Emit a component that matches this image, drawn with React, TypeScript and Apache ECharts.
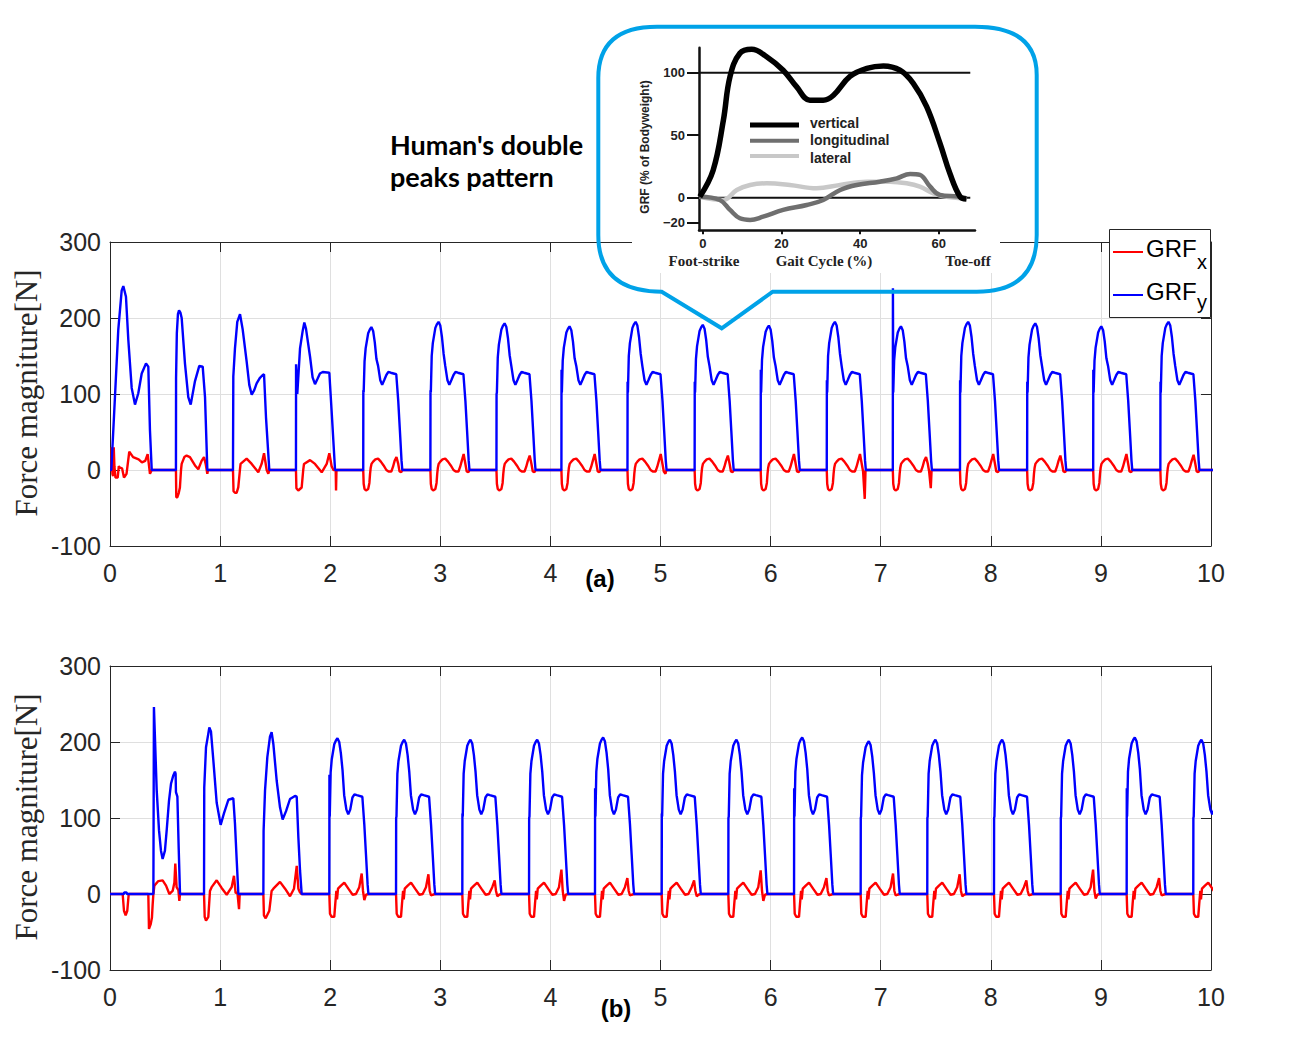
import React, { useEffect, useRef } from 'react';
import * as echarts from 'echarts';

type Pt = [number, number];

// ---------- axes ----------
const T_MIN = 0;
const T_MAX = 10;
const T_STEP = 1;
const F_MIN = -100;
const F_MAX = 300;
const F_STEP = 100;

// ---------- plot (a): first, irregular strides (time s, force N) ----------
const BLUE_A_FIRST: Pt[] = [
  [0.012, 0], [0.045, 96], [0.075, 184], [0.106, 236], [0.121, 242], [0.145, 228], [0.166, 172], [0.197, 108], [0.227, 86], [0.257, 101], [0.288, 127], [0.327, 140], [0.348, 136], [0.363, 52], [0.379, 0],
  [0.599, 0], [0.6, 120], [0.607, 180], [0.617, 205], [0.627, 210], [0.64, 207], [0.651, 200], [0.681, 140], [0.711, 96], [0.733, 86], [0.772, 117], [0.811, 137], [0.842, 136], [0.863, 96], [0.884, 0],
  [1.117, 0], [1.12, 123], [1.135, 160], [1.156, 195], [1.181, 205], [1.205, 185], [1.241, 143], [1.265, 112], [1.287, 99], [1.31, 105], [1.332, 114], [1.36, 121], [1.387, 125], [1.399, 126], [1.417, 69], [1.447, 0],
  [1.689, 0], [1.69, 139], [1.701, 100], [1.726, 160], [1.75, 183], [1.765, 194], [1.78, 186], [1.817, 149], [1.84, 122], [1.862, 113], [1.885, 120], [1.907, 127], [1.932, 129], [1.992, 128], [2.016, 70], [2.044, 0],
];
const RED_A_FIRST: Pt[] = [
  [0.012, 0], [0.016, 30], [0.022, -5], [0.028, -8], [0.034, 30], [0.04, 5], [0.05, -10], [0.07, -10], [0.08, 5], [0.09, 3], [0.11, 2], [0.127, -10], [0.15, -5], [0.175, 24], [0.21, 17], [0.26, 14], [0.29, 10], [0.32, 12], [0.342, 21], [0.363, -5], [0.379, 0],
  [0.599, 0], [0.602, -36], [0.611, -36], [0.625, -30], [0.635, -23], [0.645, 0], [0.651, 8], [0.675, 17], [0.696, 19], [0.726, 17], [0.772, 6], [0.802, 1], [0.832, 12], [0.854, 17], [0.869, 8], [0.884, -5], [0.89, 0],
  [1.117, 0], [1.122, -28], [1.135, -30], [1.15, -30], [1.165, -23], [1.18, 0], [1.186, 8], [1.241, 15], [1.287, 8], [1.347, -3], [1.377, 8], [1.399, 22], [1.423, 0], [1.438, -5], [1.447, 0],
  [1.689, 0], [1.693, -24], [1.71, -27], [1.741, -23], [1.755, 0], [1.762, 8], [1.817, 13], [1.862, 8], [1.923, -3], [1.968, 8], [1.992, 22], [2.013, 5], [2.029, 0], [2.05, 0], [2.053, -27], [2.057, 0],
];
// plot (a): regular strides, per stride values
const ONSET_A = [2.30, 2.91, 3.51, 4.10, 4.70, 5.31, 5.91, 6.51, 7.11, 7.72, 8.33, 8.93, 9.54];
const PEAK_A = [188, 195, 193, 189, 195, 191, 190, 195, 189, 195, 193, 189, 195];
const JAG_A = [105, 105, 100, 132, 116, 116, 132, 118, 239, 118, 116, 132, 116];
const SPIKE_A = [17, 21, 19, 21, 21, 19, 21, 21, 17, 21, 19, 21, 20];
const END_A = [-3, -3, -3, -3, -5, -3, -3, -38, -24, -3, -3, -3, -3];
const VALLEY_A = 112;
const PLATEAU_A = 128;

// ---------- plot (b) ----------
const BLUE_B_FIRST: Pt[] = [
  [0.125, 0], [0.13, 2], [0.15, 2], [0.155, 0],
  [0.394, 0], [0.399, 246], [0.409, 203], [0.424, 137], [0.445, 84], [0.463, 57], [0.478, 46], [0.499, 57], [0.515, 84], [0.536, 123], [0.554, 145], [0.575, 156], [0.59, 161], [0.596, 158], [0.599, 134], [0.612, 128], [0.624, 60], [0.636, 0],
  [0.854, 0], [0.856, 140], [0.872, 193], [0.893, 211], [0.902, 219], [0.917, 214], [0.938, 177], [0.969, 120], [1.005, 91], [1.035, 106], [1.075, 124], [1.12, 126], [1.135, 93], [1.151, 44], [1.166, 0],
  [1.393, 0], [1.395, 83], [1.408, 136], [1.429, 180], [1.453, 207], [1.468, 213], [1.484, 197], [1.514, 149], [1.544, 114], [1.568, 98], [1.599, 109], [1.635, 125], [1.68, 129], [1.696, 128], [1.711, 74], [1.726, 31], [1.741, 0],
];
const RED_B_FIRST: Pt[] = [
  [0.115, 0], [0.127, -22], [0.142, -28], [0.157, -22], [0.17, 0],
  [0.348, 0], [0.354, -46], [0.369, -40], [0.381, -31], [0.387, -15], [0.394, 0], [0.403, 11], [0.439, 17], [0.478, 18], [0.509, 11], [0.539, 0], [0.569, 4], [0.585, 15], [0.593, 40], [0.605, 9], [0.621, 5], [0.63, -9], [0.636, 0],
  [0.854, 0], [0.86, -30], [0.872, -35], [0.893, -30], [0.908, 4], [0.923, 9], [0.969, 18], [1.014, 8], [1.06, -1], [1.105, 9], [1.126, 24], [1.141, 1], [1.157, 2], [1.172, -20], [1.178, 0],
  [1.393, 0], [1.398, -28], [1.414, -32], [1.447, -22], [1.468, 4], [1.484, 7], [1.544, 16], [1.59, 7], [1.635, -3], [1.671, 7], [1.696, 37], [1.711, 7], [1.726, 2], [1.741, 0],
];
const ONSET_B = [1.992, 2.598, 3.2, 3.806, 4.405, 5.011, 5.616, 6.213, 6.818, 7.423, 8.029, 8.635, 9.234, 9.839];
const PEAK_B = [205, 203, 203, 203, 206, 203, 203, 206, 201, 203, 203, 203, 206, 203];
const JAG_B = [157, 100, 106, 100, 139, 106, 100, 139, 100, 100, 100, 100, 139, 100];
const SPIKE_B = [27, 26, 18, 32, 21, 18, 31, 21, 27, 26, 18, 32, 21, 20];
const END_B = [-8, -2, -3, -9, -2, -3, -9, -2, -2, -3, -2, -6, -2, -2];
const VALLEY_B = 105;
const PLATEAU_B = 130;

// stance shape read from a typical stride: [time after onset, kind, value]
// kind 0 = value, 1 = peak+value, 2 = valley+value, 3 = plateau+value, 4 = onset jag
const BLUE_SHAPE: [number, number, number][] = [
  [0, 0, 0], [0.001, 4, 0], [0.004, 0, 102], [0.012, 1, -45], [0.022, 1, -28], [0.045, 1, -8], [0.06, 1, -3], [0.074, 1, 0],
  [0.09, 1, -5], [0.105, 1, -20], [0.12, 1, -42], [0.135, 2, 25], [0.155, 2, 6], [0.172, 2, 0], [0.19, 2, 6], [0.21, 3, -3],
  [0.228, 3, 1], [0.25, 3, 0], [0.3, 3, -2], [0.318, 0, 91], [0.333, 0, 52], [0.348, 0, 12], [0.355, 0, 0],
];
// kind 0 = value, 5 = spike, 6 = end dip
const RED_SHAPE_A: [number, number, number][] = [
  [0, 0, 0], [0.004, 0, -18], [0.012, 0, -25], [0.025, 0, -27], [0.045, 0, -25], [0.056, 0, -17], [0.062, 0, -5], [0.068, 0, 3],
  [0.075, 0, 8], [0.09, 0, 11], [0.11, 0, 14], [0.135, 0, 15], [0.16, 0, 11], [0.185, 0, 6], [0.21, 0, 0], [0.23, 0, -2],
  [0.255, 0, -2], [0.27, 0, 4], [0.285, 0, 12], [0.302, 5, 0], [0.318, 0, 8], [0.33, 0, -2], [0.345, 6, 0], [0.352, 0, -1], [0.356, 0, 0],
];
const RED_SHAPE_B: [number, number, number][] = [
  [0, 0, 0], [0.006, 0, -26], [0.02, 0, -30], [0.045, 0, -30], [0.054, 0, -13], [0.064, 0, 4], [0.07, 0, -7], [0.079, 0, 7],
  [0.106, 0, 11], [0.136, 0, 15], [0.173, 0, 7], [0.212, 0, -1], [0.242, 0, 0], [0.272, 0, 9], [0.294, 5, 0], [0.306, 0, 4],
  [0.318, 6, 0], [0.333, 0, -1], [0.357, 0, 0],
];

// ---------- inset: GRF (% of bodyweight) vs gait cycle (%) ----------
const INSET_VERTICAL: Pt[] = [
  [-0.8, 0.8], [2.6, 22], [5.2, 62], [6.9, 97], [9.4, 115.5], [12.4, 118.7], [16.2, 112.8], [20.4, 102], [23.8, 88.8], [27.2, 78],
  [30.6, 78], [33.2, 82], [37.4, 97], [41.7, 103.5], [45.9, 105.4], [50.1, 102], [53.5, 91.5], [56.9, 72.8], [60.3, 43.5], [62.8, 19.5], [65.4, 0.8], [67, -1],
];
const INSET_LONGITUDINAL: Pt[] = [
  [-0.8, 0.8], [4.3, -1.8], [6.9, -9.8], [9.4, -16.5], [12, -17.8], [15.3, -15.2], [20.4, -9.8], [26.4, -5.8], [30.6, -1.8], [34.9, 6.2],
  [39.1, 10.2], [45, 12.8], [49.3, 15.5], [52.7, 19], [55.2, 18.2], [57.8, 8.8], [60.3, 2.2], [65, 1], [67.1, -0.5],
];
const INSET_LATERAL: Pt[] = [
  [-0.8, 0.8], [5.2, -1.8], [8.6, 6.2], [12, 10.2], [16.2, 11.5], [22.1, 10.2], [28.9, 7.5], [34.9, 10.2], [41.7, 12.8], [47.6, 12.8],
  [51.8, 11.5], [55.2, 8.8], [58.6, 3.5], [62, 0.8], [67.1, -0.5],
];
const INSET_X_TICKS = [0, 20, 40, 60];
const INSET_Y_TICKS = [-20, 0, 50, 100];
const INSET_REF_LEVELS = [0, 100];
const INSET_REF_X = [-1, 68];

const CALLOUT_D =
  'M 657 26.7 L 975 26.7 Q 1036.7 26.7 1036.7 75 L 1036.7 235 Q 1036.7 291.7 976.7 291.7 L 772.7 291.7 L 721.7 328.3 L 661.7 291.7 Q 598.3 291.7 598.3 235 L 598.3 78 Q 598.3 26.7 657 26.7 Z';
echarts.graphic.registerShape('callout', echarts.graphic.extendPath(CALLOUT_D, {}));

function buildBlue(first: Pt[], onsets: number[], peaks: number[], jags: number[], valley: number, plateau: number): Pt[] {
  const out: Pt[] = [[0, 0], ...first];
  onsets.forEach((t0, i) => {
    for (const [r, k, v] of BLUE_SHAPE) {
      let val = v;
      if (k === 1) val = peaks[i] + v;
      else if (k === 2) val = valley + v;
      else if (k === 3) val = plateau + v;
      else if (k === 4) val = jags[i];
      out.push([+(t0 + r).toFixed(4), val]);
    }
  });
  out.push([T_MAX + 0.5, 0]);
  return out;
}
function buildRed(first: Pt[], shape: [number, number, number][], onsets: number[], spikes: number[], ends: number[]): Pt[] {
  const out: Pt[] = [[0, 0], ...first];
  onsets.forEach((t0, i) => {
    for (const [r, k, v] of shape) {
      let val = v;
      if (k === 5) val = spikes[i];
      else if (k === 6) val = ends[i];
      out.push([+(t0 + r).toFixed(4), val]);
    }
  });
  out.push([T_MAX + 0.5, 0]);
  return out;
}

const AX = '#262626';
const SANS = '"Liberation Sans", Arial, sans-serif';

function mainAxes(grid: number) {
  const common = { gridIndex: grid, type: 'value' as const };
  const line = { show: true, onZero: false, lineStyle: { color: AX, width: 1 } };
  const tick = { show: true, inside: true, length: 10, lineStyle: { color: AX, width: 1 } };
  const x = [
    {
      ...common, min: T_MIN, max: T_MAX, interval: T_STEP, position: 'bottom',
      axisLine: line, axisTick: tick,
      axisLabel: { show: true, margin: 14, fontSize: 25, color: AX, fontFamily: SANS },
      splitLine: { show: true, lineStyle: { color: '#dfdfdf', width: 1 } },
    },
    {
      ...common, min: T_MIN, max: T_MAX, interval: T_STEP, position: 'top',
      axisLine: line, axisTick: tick, axisLabel: { show: false }, splitLine: { show: false },
    },
  ];
  const y = [
    {
      ...common, min: F_MIN, max: F_MAX, interval: F_STEP, position: 'left',
      axisLine: line, axisTick: tick,
      axisLabel: { show: true, margin: 9, fontSize: 25, color: AX, fontFamily: SANS },
      splitLine: { show: true, lineStyle: { color: '#dfdfdf', width: 1 } },
    },
    {
      ...common, min: F_MIN, max: F_MAX, interval: F_STEP, position: 'right',
      axisLine: line, axisTick: tick, axisLabel: { show: false }, splitLine: { show: false },
    },
  ];
  return { x, y };
}

function lineSeries(name: string, data: Pt[], xi: number, yi: number, color: string, width: number, z: number, smooth: number | boolean = false) {
  return {
    name, type: 'line', data, xAxisIndex: xi, yAxisIndex: yi, showSymbol: false, symbol: 'none', smooth,
    lineStyle: { color, width }, itemStyle: { color }, z, clip: true, animation: false, silent: true,
  };
}

function txt(text: string, x: number, y: number, font: string, opts: any = {}) {
  return {
    type: 'text', x, y, z: opts.z ?? 30, rotation: opts.rotation ?? 0, silent: true,
    style: {
      text, font, fill: opts.fill ?? '#000',
      align: opts.align ?? 'center', verticalAlign: 'middle',
      textAlign: opts.align ?? 'center', textVerticalAlign: 'middle',
    },
  };
}

export default function App() {
  const ref = useRef<HTMLDivElement>(null);
  useEffect(() => {
    if (!ref.current) return;
    const chart = echarts.init(ref.current, undefined, { renderer: 'svg' });
    const a = mainAxes(0);
    const b = mainAxes(1);

    const blueA = buildBlue(BLUE_A_FIRST, ONSET_A, PEAK_A, JAG_A, VALLEY_A, PLATEAU_A);
    const redA = buildRed(RED_A_FIRST, RED_SHAPE_A, ONSET_A, SPIKE_A, END_A);
    const blueB = buildBlue(BLUE_B_FIRST, ONSET_B, PEAK_B, JAG_B, VALLEY_B, PLATEAU_B);
    const redB = buildRed(RED_B_FIRST, RED_SHAPE_B, ONSET_B, SPIKE_B, END_B);

    const insetX = {
      gridIndex: 2, type: 'value', min: -1, max: 69.2, z: 12,
      axisLine: { show: true, onZero: false, lineStyle: { color: '#111', width: 2.5 } },
      axisTick: { show: true, inside: false, length: 4, customValues: INSET_X_TICKS, lineStyle: { color: '#111', width: 2 } },
      axisLabel: { show: true, customValues: INSET_X_TICKS, margin: 7, fontSize: 13, fontWeight: 'bold', color: '#222', fontFamily: SANS },
      splitLine: { show: false },
    };
    const insetY = {
      gridIndex: 2, type: 'value', min: -26, max: 120, z: 12,
      axisLine: { show: true, onZero: false, lineStyle: { color: '#111', width: 2.5 } },
      axisTick: { show: true, inside: false, length: 12, customValues: INSET_Y_TICKS, lineStyle: { color: '#111', width: 2 } },
      axisLabel: {
        show: true, customValues: INSET_Y_TICKS, margin: 14, fontSize: 13, fontWeight: 'bold', color: '#222', fontFamily: SANS,
        formatter: (v: number) => (v < 0 ? '\u2212' + Math.abs(v) : String(v)),
      },
      splitLine: { show: false },
    };

    const refSeries = INSET_REF_LEVELS.map((lv, i) =>
      lineSeries('ref' + i, INSET_REF_X.map((x) => [x, lv] as Pt), 4, 4, '#111', 2, 13),
    );

    const option: any = {
      animation: false,
      backgroundColor: '#fff',
      grid: [
        { left: 110, top: 242, width: 1101, height: 304, containLabel: false, outerBoundsMode: 'none' },
        { left: 110, top: 666, width: 1101, height: 304, containLabel: false, outerBoundsMode: 'none' },
        { left: 699, top: 47.7, width: 276, height: 182.5, containLabel: false, outerBoundsMode: 'none' },
      ],
      xAxis: [...a.x, ...b.x, insetX],
      yAxis: [...a.y, ...b.y, insetY],
      series: [
        lineSeries('GRFx', redA, 0, 0, '#ff0000', 2.4, 3),
        lineSeries('GRFy', blueA, 0, 0, '#0000ff', 2.4, 4),
        lineSeries('GRFx', redB, 2, 2, '#ff0000', 2.4, 3),
        lineSeries('GRFy', blueB, 2, 2, '#0000ff', 2.4, 4),
        ...refSeries,
        lineSeries('lateral', INSET_LATERAL, 4, 4, '#c8c8c8', 4.5, 14, 0.4),
        lineSeries('longitudinal', INSET_LONGITUDINAL, 4, 4, '#6f6f6f', 4.5, 15, 0.4),
        lineSeries('vertical', INSET_VERTICAL, 4, 4, '#000000', 5.5, 16, 0.4),
      ],
      graphic: {
        elements: [
          { type: 'rect', z: 10, silent: true, shape: { x: 632, y: 32, width: 368, height: 241 }, style: { fill: '#ffffff', stroke: null } },
          { type: 'callout', z: 40, x: 0, y: 0, scaleX: 1, scaleY: 1, silent: true, style: { fill: 'none', stroke: '#00A2E8', lineWidth: 4 } },
          txt("Human's double", 390, 144, 'bold 27px Lato, "Open Sans", sans-serif', { align: 'left' }),
          txt('peaks pattern', 390, 176, 'bold 27px Lato, "Open Sans", sans-serif', { align: 'left' }),
          txt('Force magniture[N]', 26, 393, '31px "Liberation Serif", serif', { rotation: Math.PI / 2, fill: AX }),
          txt('Force magniture[N]', 26, 817, '31px "Liberation Serif", serif', { rotation: Math.PI / 2, fill: AX }),
          txt('(a)', 600, 578, 'bold 24px ' + SANS),
          txt('(b)', 616, 1008, 'bold 24px ' + SANS),
          // inset texts
          txt('GRF (% of Bodyweight)', 645, 147, 'bold 12px ' + SANS, { rotation: Math.PI / 2, fill: '#222' }),
          txt('Foot-strike', 704, 261, 'bold 15px "Liberation Serif", serif', { fill: '#222' }),
          txt('Gait Cycle (%)', 824, 261, 'bold 15px "Liberation Serif", serif', { fill: '#222' }),
          txt('Toe-off', 968, 261, 'bold 15px "Liberation Serif", serif', { fill: '#222' }),
          { type: 'line', z: 30, silent: true, shape: { x1: 750, y1: 125, x2: 799, y2: 125 }, style: { stroke: '#000', lineWidth: 5 } },
          { type: 'line', z: 30, silent: true, shape: { x1: 750, y1: 140.7, x2: 799, y2: 140.7 }, style: { stroke: '#6f6f6f', lineWidth: 4 } },
          { type: 'line', z: 30, silent: true, shape: { x1: 750, y1: 156, x2: 799, y2: 156 }, style: { stroke: '#c8c8c8', lineWidth: 4 } },
          txt('vertical', 810, 122.5, 'bold 14px ' + SANS, { align: 'left', fill: '#222' }),
          txt('longitudinal', 810, 140, 'bold 14px ' + SANS, { align: 'left', fill: '#222' }),
          txt('lateral', 810, 157.5, 'bold 14px ' + SANS, { align: 'left', fill: '#222' }),
          // main legend
          { type: 'rect', z: 30, silent: true, shape: { x: 1109.5, y: 229.5, width: 101, height: 88 }, style: { fill: '#fff', stroke: AX, lineWidth: 1 } },
          { type: 'line', z: 31, silent: true, shape: { x1: 1113, y1: 252, x2: 1143, y2: 252 }, style: { stroke: '#ff0000', lineWidth: 2 } },
          { type: 'line', z: 31, silent: true, shape: { x1: 1113, y1: 295, x2: 1143, y2: 295 }, style: { stroke: '#0000ff', lineWidth: 2 } },
          txt('GRF', 1146, 248.3, '24px ' + SANS, { align: 'left', z: 31 }),
          txt('x', 1197, 261.5, '20px ' + SANS, { align: 'left', z: 31 }),
          txt('GRF', 1146, 291.6, '24px ' + SANS, { align: 'left', z: 31 }),
          txt('y', 1197, 301.5, '20px ' + SANS, { align: 'left', z: 31 }),
        ],
      },
    };
    chart.setOption(option);
    return () => chart.dispose();
  }, []);
  return (
    <div
      ref={ref}
      style={{ position: 'fixed', left: 0, top: 0, width: 1298, height: 1046, background: '#fff' }}
    />
  );
}
